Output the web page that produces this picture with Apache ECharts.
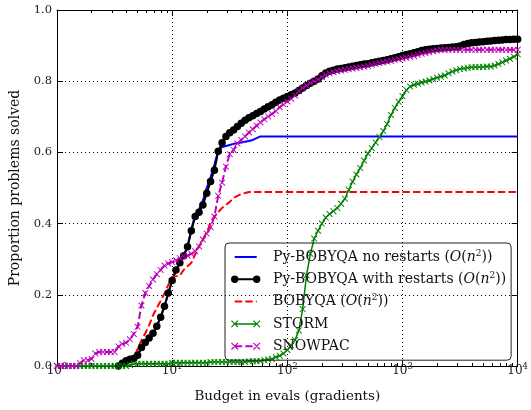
<!DOCTYPE html>
<html>
<head>
<meta charset="utf-8">
<script src="https://cdn.jsdelivr.net/npm/echarts@6/dist/echarts.min.js"></script>
<style>
  html, body { margin: 0; padding: 0; background: #fff; }
  #chart { width: 531px; height: 410px; }
</style>
</head>
<body>
<div id="chart"></div>
<script>
// Budget grid (in gradients), shared by all solvers
const budgets = [
  1, 1.08, 1.166, 1.259, 1.359, 1.468, 1.585, 1.711, 1.848, 1.995,
  2.154, 2.326, 2.512, 2.712, 2.929, 3.162, 3.415, 3.687, 3.981, 4.299,
  4.642, 5.012, 5.412, 5.843, 6.31, 6.813, 7.356, 7.943, 8.577, 9.261,
  10, 10.8, 11.66, 12.59, 13.59, 14.68, 15.85, 17.11, 18.48, 19.95,
  21.54, 23.26, 25.12, 27.12, 29.29, 31.62, 34.15, 36.87, 39.81, 42.99,
  46.42, 50.12, 54.12, 58.43, 63.1, 68.13, 73.56, 79.43, 85.77, 92.61,
  100, 108, 116.6, 125.9, 135.9, 146.8, 158.5, 171.1, 184.8, 199.5,
  215.4, 232.6, 251.2, 271.2, 292.9, 316.2, 341.5, 368.7, 398.1, 429.9,
  464.2, 501.2, 541.2, 584.3, 631, 681.3, 735.6, 794.3, 857.7, 926.1,
  1000, 1080, 1166, 1259, 1359, 1468, 1585, 1711, 1848, 1995,
  2154, 2326, 2512, 2712, 2929, 3162, 3415, 3687, 3981, 4299,
  4642, 5012, 5412, 5843, 6310, 6813, 7356, 7943, 8577, 9261,
  10000
];

// Proportion of problems solved at each budget
const pyNoRestarts = [
  null, null, null, null, null, null, null, null, null, null,
  null, null, null, null, null, null, 0, 0.008, 0.015, 0.019,
  0.021, 0.03, 0.052, 0.066, 0.079, 0.092, 0.112, 0.137, 0.168, 0.205,
  0.24, 0.27, 0.29, 0.31, 0.335, 0.385, 0.425, 0.44, 0.465, 0.5,
  0.53, 0.565, 0.605, 0.615, 0.618, 0.621, 0.624, 0.626, 0.628, 0.63,
  0.632, 0.635, 0.64, 0.645, 0.645, 0.645, 0.645, 0.645, 0.645, 0.645,
  0.645, 0.645, 0.645, 0.645, 0.645, 0.645, 0.645, 0.645, 0.645, 0.645,
  0.645, 0.645, 0.645, 0.645, 0.645, 0.645, 0.645, 0.645, 0.645, 0.645,
  0.645, 0.645, 0.645, 0.645, 0.645, 0.645, 0.645, 0.645, 0.645, 0.645,
  0.645, 0.645, 0.645, 0.645, 0.645, 0.645, 0.645, 0.645, 0.645, 0.645,
  0.645, 0.645, 0.645, 0.645, 0.645, 0.645, 0.645, 0.645, 0.645, 0.645,
  0.645, 0.645, 0.645, 0.645, 0.645, 0.645, 0.645, 0.645, 0.645, 0.645,
  0.645
];

const pyWithRestarts = [
  null, null, null, null, null, null, null, null, null, null,
  null, null, null, null, null, null, 0, 0.008, 0.015, 0.019,
  0.021, 0.03, 0.052, 0.066, 0.079, 0.092, 0.112, 0.137, 0.168, 0.205,
  0.24, 0.27, 0.29, 0.31, 0.335, 0.38, 0.42, 0.432, 0.452, 0.485,
  0.518, 0.55, 0.603, 0.627, 0.645, 0.655, 0.663, 0.673, 0.682, 0.69,
  0.697, 0.703, 0.709, 0.715, 0.722, 0.728, 0.734, 0.741, 0.747, 0.752,
  0.757, 0.762, 0.767, 0.774, 0.781, 0.788, 0.794, 0.8, 0.806, 0.815,
  0.823, 0.828, 0.831, 0.834, 0.836, 0.838, 0.84, 0.842, 0.844, 0.846,
  0.848, 0.849, 0.852, 0.854, 0.856, 0.858, 0.86, 0.863, 0.866, 0.869,
  0.872, 0.875, 0.877, 0.88, 0.883, 0.886, 0.888, 0.89, 0.891, 0.892,
  0.893, 0.894, 0.895, 0.896, 0.897, 0.899, 0.903, 0.906, 0.908, 0.909,
  0.91, 0.911, 0.912, 0.913, 0.914, 0.915, 0.916, 0.917, 0.917, 0.918,
  0.918
];

const bobyqa = [
  null, null, null, null, null, null, null, null, null, null,
  null, null, null, null, null, null, 0, 0.005, 0.015, 0.018,
  0.02, 0.048, 0.072, 0.092, 0.115, 0.142, 0.163, 0.183, 0.204, 0.228,
  0.25, 0.252, 0.254, 0.27, 0.28, 0.29, 0.314, 0.336, 0.355, 0.376,
  0.4, 0.42, 0.432, 0.444, 0.452, 0.461, 0.472, 0.478, 0.483, 0.486,
  0.489, 0.489, 0.489, 0.489, 0.489, 0.489, 0.489, 0.489, 0.489, 0.489,
  0.489, 0.489, 0.489, 0.489, 0.489, 0.489, 0.489, 0.489, 0.489, 0.489,
  0.489, 0.489, 0.489, 0.489, 0.489, 0.489, 0.489, 0.489, 0.489, 0.489,
  0.489, 0.489, 0.489, 0.489, 0.489, 0.489, 0.489, 0.489, 0.489, 0.489,
  0.489, 0.489, 0.489, 0.489, 0.489, 0.489, 0.489, 0.489, 0.489, 0.489,
  0.489, 0.489, 0.489, 0.489, 0.489, 0.489, 0.489, 0.489, 0.489, 0.489,
  0.489, 0.489, 0.489, 0.489, 0.489, 0.489, 0.489, 0.489, 0.489, 0.489,
  0.489
];

const storm = [
  0, 0, 0, 0, 0, 0, 0, 0, 0, 0,
  0, 0, 0, 0, 0, 0, 0, 0, 0, 0.003,
  0.006, 0.006, 0.006, 0.006, 0.006, 0.006, 0.006, 0.006, 0.006, 0.006,
  0.009, 0.009, 0.009, 0.009, 0.009, 0.009, 0.009, 0.009, 0.009, 0.009,
  0.011, 0.011, 0.011, 0.011, 0.011, 0.011, 0.011, 0.011, 0.011, 0.011,
  0.013, 0.013, 0.013, 0.014, 0.016, 0.018, 0.02, 0.025, 0.029, 0.035,
  0.045, 0.058, 0.073, 0.1, 0.16, 0.255, 0.315, 0.358, 0.38, 0.4,
  0.417, 0.427, 0.435, 0.444, 0.456, 0.47, 0.495, 0.518, 0.538, 0.556,
  0.577, 0.597, 0.612, 0.628, 0.643, 0.66, 0.68, 0.705, 0.725, 0.742,
  0.758, 0.775, 0.785, 0.79, 0.793, 0.796, 0.799, 0.802, 0.806, 0.81,
  0.813, 0.816, 0.822, 0.827, 0.831, 0.834, 0.836, 0.838, 0.839, 0.84,
  0.84, 0.84, 0.841, 0.841, 0.844, 0.848, 0.853, 0.858, 0.863, 0.869,
  0.876
];

const snowpac = [
  0, 0, 0, 0, 0, 0, 0.008, 0.016, 0.016, 0.02,
  0.035, 0.039, 0.039, 0.039, 0.039, 0.039, 0.055, 0.062, 0.065, 0.075,
  0.09, 0.11, 0.17, 0.205, 0.225, 0.243, 0.258, 0.27, 0.282, 0.288,
  0.292, 0.297, 0.303, 0.308, 0.31, 0.315, 0.322, 0.336, 0.355, 0.372,
  0.39, 0.42, 0.478, 0.515, 0.56, 0.595, 0.607, 0.625, 0.635, 0.645,
  0.656, 0.665, 0.675, 0.684, 0.693, 0.701, 0.708, 0.716, 0.727, 0.735,
  0.743, 0.751, 0.76, 0.772, 0.781, 0.788, 0.795, 0.8, 0.805, 0.812,
  0.818, 0.822, 0.826, 0.828, 0.83, 0.832, 0.834, 0.836, 0.837, 0.839,
  0.841, 0.843, 0.846, 0.849, 0.851, 0.853, 0.855, 0.857, 0.86, 0.862,
  0.864, 0.866, 0.868, 0.871, 0.874, 0.877, 0.879, 0.881, 0.884, 0.886,
  0.888, 0.888, 0.888, 0.888, 0.888, 0.888, 0.888, 0.888, 0.888, 0.888,
  0.888, 0.888, 0.888, 0.888, 0.888, 0.888, 0.888, 0.888, 0.888, 0.888,
  0.888
];

const seriesNames = [
  'Py-BOBYQA no restarts (O(n^2))',
  'Py-BOBYQA with restarts (O(n^2))',
  'BOBYQA (O(n^2))',
  'STORM',
  'SNOWPAC'
];
const xTickValues = [1, 10, 100, 1000, 10000];
const yTickValues = [0, 0.2, 0.4, 0.6, 0.8, 1.0];

const FONT = 'DejaVu Serif';

// ---- small path helpers for markers and legend handles ----
function orient(pts) {
  let a = 0;
  for (let i = 0; i < pts.length; i++) {
    const p = pts[i], q = pts[(i + 1) % pts.length];
    a += p[0] * q[1] - q[0] * p[1];
  }
  return a < 0 ? pts.slice().reverse() : pts;
}
function poly(pts) {
  pts = orient(pts);
  return 'M' + pts.map(p => p[0].toFixed(2) + ' ' + p[1].toFixed(2)).join('L') + 'Z';
}
function bar(x1, y1, x2, y2, h) {
  const dx = x2 - x1, dy = y2 - y1, L = Math.hypot(dx, dy);
  const nx = -dy / L * h, ny = dx / L * h;
  return poly([[x1 + nx, y1 + ny], [x2 + nx, y2 + ny], [x2 - nx, y2 - ny], [x1 - nx, y1 - ny]]);
}
function cross(cx, cy, s, h) {
  return bar(cx - s, cy - s, cx + s, cy + s, h) + bar(cx - s, cy + s, cx + s, cy - s, h);
}
function disc(cx, cy, r) {
  return 'M' + (cx - r) + ' ' + cy + 'A' + r + ' ' + r + ' 0 1 1 ' + (cx + r) + ' ' + cy +
         'A' + r + ' ' + r + ' 0 1 1 ' + (cx - r) + ' ' + cy + 'Z';
}
function rect(x1, x2, y1, y2) {
  return poly([[x1, y1], [x2, y1], [x2, y2], [x1, y2]]);
}
// legend handle box: 370 x 100 units (37 x 10 px)
const ANCHORS = 'M0 0L0.5 0L0 0.5Z M370 100L369.5 100L370 99.5Z';
const H0 = 37, H1 = 257;
function solidLine(th) { return rect(H0, H1, 50 - th / 2, 50 + th / 2); }
function dashedLine(th) {
  return rect(37, 111, 50 - th / 2, 50 + th / 2) + rect(143, 217, 50 - th / 2, 50 + th / 2) +
         rect(249, 257, 50 - th / 2, 50 + th / 2);
}
const iconBlue = 'path://' + ANCHORS + solidLine(20);
const iconBlack = 'path://' + ANCHORS + solidLine(20) + disc(H0, 50, 37) + disc(H1, 50, 37);
const iconRed = 'path://' + ANCHORS + dashedLine(20);
const iconGreen = 'path://' + ANCHORS + solidLine(15) + cross(H0, 50, 33, 6) + cross(H1, 50, 33, 6);
const iconMagenta = 'path://' + ANCHORS + dashedLine(20) + cross(H0, 50, 33, 6) + cross(H1, 50, 33, 6);
const xMarker = 'path://' + cross(50, 50, 50, 8);

// minor ticks of the log axis: 2..9 within each decade
const minorTicks = [];
for (let d = 1; d < 10000; d *= 10) {
  for (let m = 2; m <= 9; m++) minorTicks.push(m * d);
}

function pairs(ys) {
  return budgets.map((b, i) => [b, ys[i]]);
}

const chart = echarts.init(document.getElementById('chart'), null, { renderer: 'canvas' });

const commonLogAxis = {
  type: 'log', logBase: 10, min: 1, max: 10000,
  axisLine: { onZero: false, lineStyle: { color: '#000', width: 1 } },
  splitLine: { show: false },
  axisLabel: { show: false }
};

const option = {
  animation: false,
  backgroundColor: '#fff',
  grid: { left: 57, right: 12, top: 10, bottom: 44, containLabel: false },
  xAxis: [
    Object.assign({}, commonLogAxis, {
      position: 'bottom',
      axisTick: { inside: true, length: 6, lineStyle: { color: '#000' } },
      splitLine: { show: true, lineStyle: { color: '#000', width: 1, type: [1, 3] } },
      axisLabel: {
        show: true,
        margin: -4,
        customValues: xTickValues,
        formatter: v => '{b|10}{s|' + Math.round(Math.log10(v)) + '}',
        rich: {
          b: { fontFamily: FONT, fontSize: 12, lineHeight: 13, color: '#222', padding: [4, 0, 0, 0] },
          s: { fontFamily: FONT, fontSize: 8.5, lineHeight: 9, color: '#222', verticalAlign: 'top' }
        }
      },
      name: 'Budget in evals (gradients)',
      nameLocation: 'middle',
      nameGap: 23,
      nameTextStyle: { fontFamily: FONT, fontSize: 13.5, color: '#111' }
    }),
    Object.assign({}, commonLogAxis, {
      position: 'bottom',
      axisLine: { show: false, onZero: false },
      axisTick: { inside: true, length: 3, customValues: minorTicks, lineStyle: { color: '#000' } }
    }),
    Object.assign({}, commonLogAxis, {
      position: 'top',
      axisTick: { inside: true, length: 6, lineStyle: { color: '#000' } }
    }),
    Object.assign({}, commonLogAxis, {
      position: 'top',
      axisLine: { show: false, onZero: false },
      axisTick: { inside: true, length: 3, customValues: minorTicks, lineStyle: { color: '#000' } }
    })
  ],
  yAxis: [
    {
      type: 'value', min: 0, max: 1, interval: 0.2, position: 'left',
      axisLine: { show: true, onZero: false, lineStyle: { color: '#000', width: 1 } },
      axisTick: { show: true, inside: true, length: 6, lineStyle: { color: '#000' } },
      splitLine: { show: true, lineStyle: { color: '#000', width: 1, type: [1, 3] } },
      axisLabel: {
        margin: 5,
        customValues: yTickValues,
        formatter: v => v.toFixed(1),
        fontFamily: FONT, fontSize: 11.5, color: '#222'
      },
      name: 'Proportion problems solved',
      nameLocation: 'middle',
      nameGap: 28,
      nameRotate: 90,
      nameTextStyle: { fontFamily: FONT, fontSize: 14, color: '#111' }
    },
    {
      type: 'value', min: 0, max: 1, interval: 0.2, position: 'right',
      axisLine: { show: true, onZero: false, lineStyle: { color: '#000', width: 1 } },
      axisTick: { show: true, inside: true, length: 6, lineStyle: { color: '#000' } },
      splitLine: { show: false },
      axisLabel: { show: false }
    }
  ],
  legend: {
    orient: 'vertical',
    left: 225, top: 243,
    padding: [6, 5, 6, 6],
    itemGap: 6.3,
    itemWidth: 37, itemHeight: 10,
    borderColor: '#222', borderWidth: 1, borderRadius: 4,
    backgroundColor: 'transparent',
    itemStyle: { borderWidth: 0 },
    selectedMode: false,
    textStyle: {
      fontFamily: FONT, fontSize: 14, lineHeight: 16, color: '#111',
      rich: {
        i: { fontFamily: FONT, fontSize: 14, lineHeight: 16, fontStyle: 'italic', color: '#111' },
        s: { fontFamily: FONT, fontSize: 9, lineHeight: 9, verticalAlign: 'top', color: '#111' }
      }
    },
    formatter: name => name.replace('(O(n^2))', '({i|O}({i|n}{s|2}))'),
    data: [
      { name: seriesNames[0], icon: iconBlue },
      { name: seriesNames[1], icon: iconBlack },
      { name: seriesNames[2], icon: iconRed },
      { name: seriesNames[3], icon: iconGreen },
      { name: seriesNames[4], icon: iconMagenta }
    ]
  },
  series: [
    {
      name: seriesNames[0], type: 'line', data: pairs(pyNoRestarts),
      showSymbol: false, symbol: 'none',
      lineStyle: { color: '#0000ff', width: 2 }, itemStyle: { color: '#0000ff' }
    },
    {
      name: seriesNames[1], type: 'line', data: pairs(pyWithRestarts),
      symbol: 'circle', symbolSize: 7.5,
      lineStyle: { color: '#000', width: 2 }, itemStyle: { color: '#000', borderWidth: 0 }
    },
    {
      name: seriesNames[2], type: 'line', data: pairs(bobyqa),
      showSymbol: false, symbol: 'none',
      lineStyle: { color: '#ff0000', width: 2, type: [7.4, 3.2] }, itemStyle: { color: '#ff0000' }
    },
    {
      name: seriesNames[3], type: 'line', data: pairs(storm),
      symbol: xMarker, symbolSize: 6.5,
      lineStyle: { color: '#008000', width: 1.5 }, itemStyle: { color: '#008000', borderWidth: 0 }
    },
    {
      name: seriesNames[4], type: 'line', data: pairs(snowpac),
      symbol: xMarker, symbolSize: 6.5,
      lineStyle: { color: '#bf00bf', width: 2, type: [7.4, 3.2] }, itemStyle: { color: '#bf00bf', borderWidth: 0 }
    }
  ]
};

chart.setOption(option);
</script>
</body>
</html>
